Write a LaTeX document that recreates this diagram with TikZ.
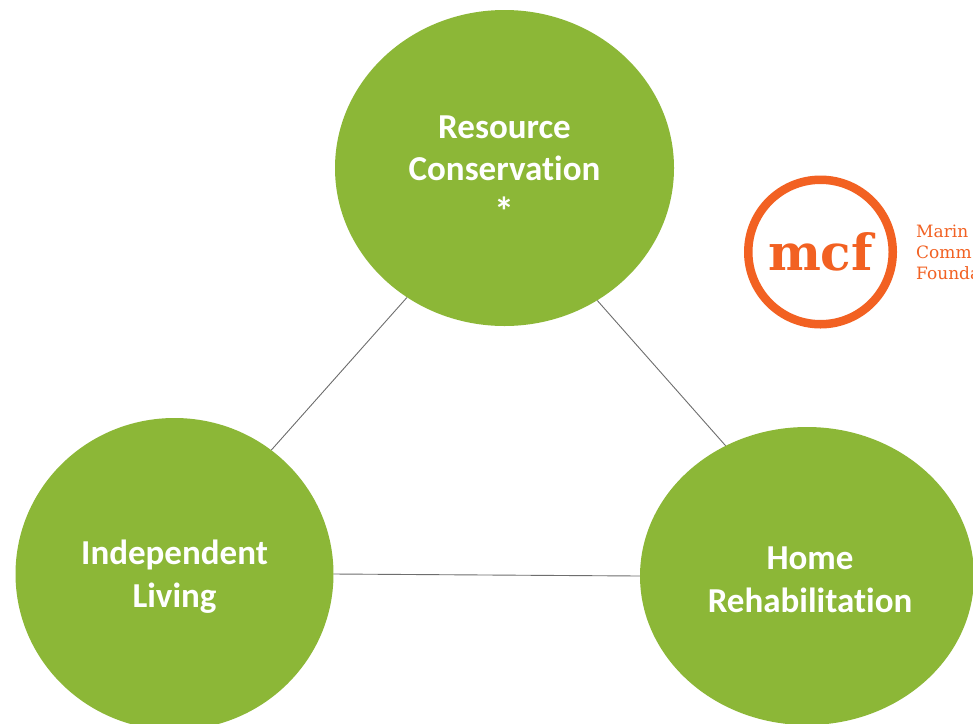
\documentclass[tikz,border=0pt]{standalone}
\usepackage{fontspec}
\setmainfont[Ligatures=NoCommon]{Carlito}
\newfontfamily\slabfont{DejaVu Serif}
\usetikzlibrary{shapes.geometric}
\definecolor{leaf}{HTML}{8CB737}
\definecolor{mcforange}{HTML}{F26122}
\definecolor{linkgrey}{HTML}{6E6E6E}
\newcommand{\lowered}[2]{\raisebox{-#1}[\height][\depth]{#2}}
\tikzset{
  bubble/.style={ellipse,fill=leaf,inner sep=0pt,text=white,align=center,
    font=\fontsize{35}{42.7}\selectfont\bfseries},
  link/.style={draw=linkgrey,line width=0.9pt},
  sidetext/.style={anchor=west,inner sep=0pt,text=mcforange,
    font=\slabfont\fontsize{17}{21}\selectfont,align=left}
}
\begin{document}
\begin{tikzpicture}[x=1pt,y=-1pt]
\useasboundingbox (0,0) rectangle (973,723);
\clip (0,0) rectangle (973,723);
\fill[white] (0,0) rectangle (973,723);
\node[bubble,minimum width=339pt,minimum height=316pt] (res) at (504.5,168) {\lowered{0.5pt}{Resource}\\\lowered{0.5pt}{Conservation}\\[-2pt]\lowered{4.5pt}{\fontsize{40}{40}\selectfont *}};
\node[bubble,minimum width=318pt,minimum height=312pt] (ind) at (174.5,574) {\lowered{3pt}{Independent}\\\lowered{3pt}{Living}};
\node[bubble,minimum width=334pt,minimum height=298pt] (hom) at (807,576) {\hspace*{6pt}\lowered{4pt}{Home}\\\hspace*{6pt}\lowered{4pt}{Rehabilitation}};
\draw[link] (res.233.4) -- (ind.52.1);
\draw[link] (res.-55) -- (hom.122.8);
\draw[link] (ind.0) -- (hom.180);
\node[circle,draw=mcforange,line width=8.5pt,minimum size=144.5pt,inner sep=0pt,
  text=mcforange,font=\slabfont\fontsize{50}{50}\selectfont\bfseries] (logo) at (820.5,252) {mcf};
\node[sidetext] (mcfname) at (916,252) {Marin\\Comm\\Founda};
\end{tikzpicture}
\end{document}
